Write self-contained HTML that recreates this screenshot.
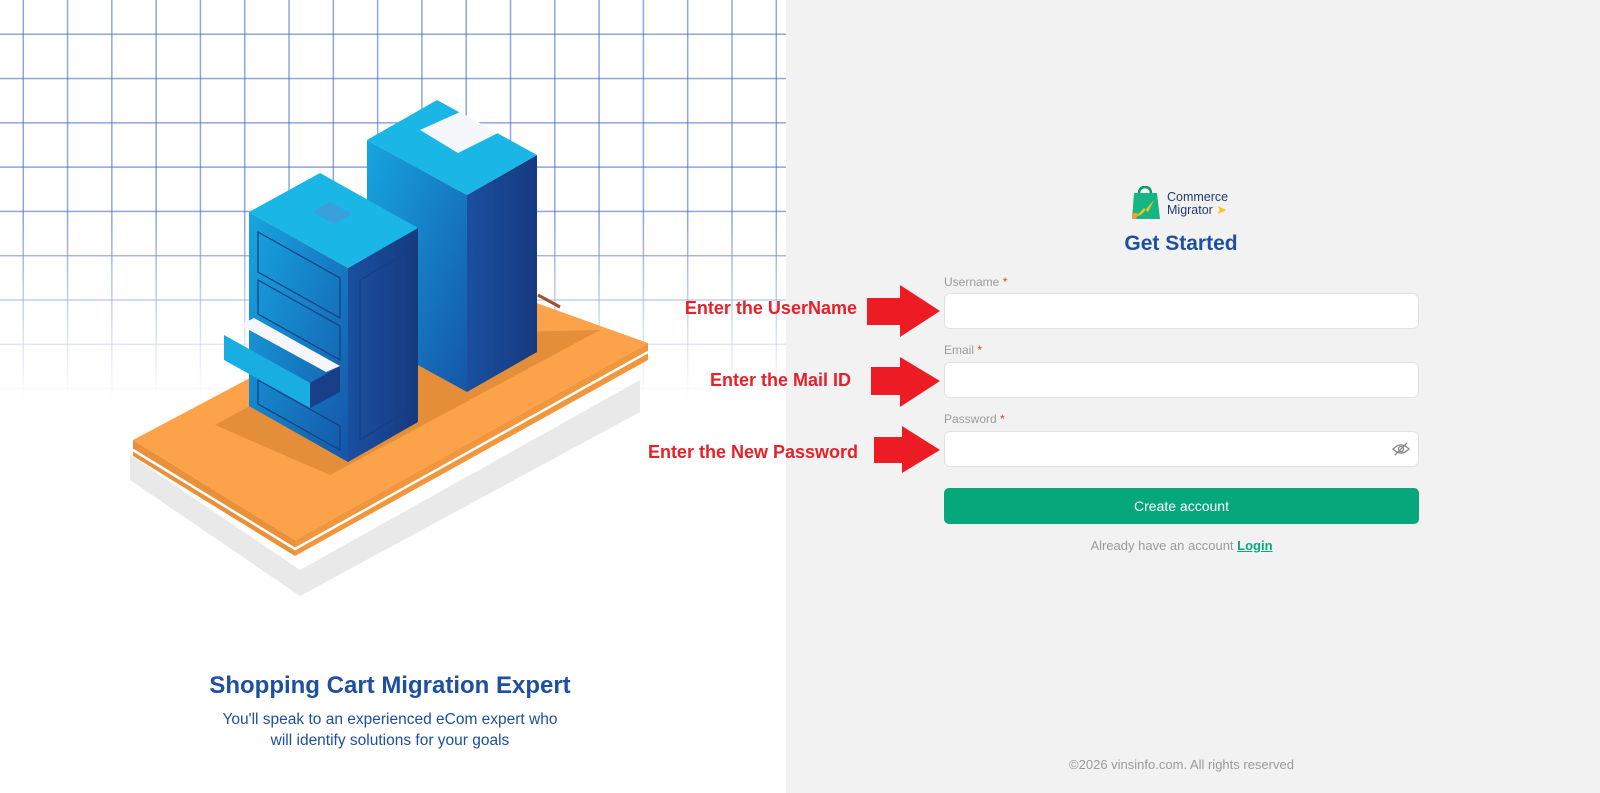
<!DOCTYPE html>
<html><head><meta charset="utf-8"><style>
*{margin:0;padding:0;box-sizing:border-box}
body{width:1600px;height:793px;overflow:hidden;background:#fff;font-family:"Liberation Sans",sans-serif;position:relative}
.right{position:absolute;left:786px;top:0;width:814px;height:793px;background:#f2f2f2}
.grid{position:absolute;left:0;top:0;width:786px;height:420px;
background-image:linear-gradient(to right,rgba(70,105,190,.6) 1.3px,transparent 1.3px),linear-gradient(to bottom,rgba(70,105,190,.6) 1.3px,transparent 1.3px);
background-size:44.3px 44.3px;background-position:22.5px 33.5px;
-webkit-mask-image:linear-gradient(to bottom,#000 0,#000 220px,rgba(0,0,0,.3) 340px,transparent 400px);mask-image:linear-gradient(to bottom,#000 0,#000 220px,rgba(0,0,0,.3) 340px,transparent 400px)}
.abs{position:absolute}
.lbl{position:absolute;left:944px;font-size:12px;color:#9a9a9a}
.lbl span{color:#e53935}
.inp{position:absolute;left:944px;width:475px;height:36px;background:#fff;border:1px solid #e2e2e2;border-radius:6px}
.ann{position:absolute;font-weight:bold;font-size:18px;color:#e8202a;text-align:right;width:300px}
</style></head><body>
<div class="grid"></div>
<div class="right"></div>
<svg class="abs" style="left:0;top:0" width="786" height="793">
<defs>
<linearGradient id="lf" x1="0" y1="0" x2="1" y2="1"><stop offset="0" stop-color="#16a6e0"/><stop offset="1" stop-color="#1556a8"/></linearGradient>
<linearGradient id="rf" x1="0" y1="0" x2="1" y2="0"><stop offset="0" stop-color="#1b4fa0"/><stop offset="1" stop-color="#163a80"/></linearGradient>
</defs>
<polygon points="130,480 300,596 640,412 640,380 300,570 130,455" fill="#e9e9e9"/>
<polygon points="133,440 295,540 295,556 133,456" fill="#e8913a"/>
<polygon points="295,540 648,343 648,360 295,556" fill="#f0963d"/>
<polyline points="133,450 295,549 648,352" fill="none" stroke="#fff" stroke-width="2.5"/>
<polygon points="133,440 450,272 648,343 295,540" fill="#fba24a"/>
<polygon points="215,425 380,335 600,330 330,475" fill="#e08a35" opacity=".8"/>
<polygon points="367,140 467,195 467,392 367,337" fill="url(#lf)"/>
<polygon points="467,195 537,155 537,352 467,392" fill="url(#rf)"/>
<polygon points="367,140 437,100 537,155 467,195" fill="#19b6e6"/>
<polygon points="420,130 460,112 498,133 458,153" fill="#f4f6fa"/>
<line x1="538" y1="295" x2="560" y2="307" stroke="#a0522d" stroke-width="3"/>
<polygon points="249,212 348,268 348,462 249,406" fill="url(#lf)"/>
<polygon points="348,268 418,228 418,422 348,462" fill="url(#rf)"/>
<polygon points="249,212 320,173 418,228 348,268" fill="#19b6e6"/>
<polygon points="312,212 330,202 352,214 334,224" fill="#3aa0dc"/>
<g fill="none" stroke="#153e86" stroke-width="1.2">
<path d="M258,232 L340,278 L340,318 L258,272Z"/><path d="M258,280 L340,326 L340,360 L258,314Z"/>
<path d="M258,380 L340,426 L340,450 L258,404Z"/>
<path d="M360,280 L408,252 L408,410 L360,440Z"/>
</g>
<polygon points="224,335 310,383 310,408 224,360" fill="#18aee2"/>
<polygon points="310,383 340,366 340,392 310,408" fill="#1a3f8a"/>
<polygon points="240,325 326,372 340,366 254,318" fill="#f4f6fa"/>
<text x="390" y="693" text-anchor="middle" font-family="Liberation Sans,sans-serif" font-weight="bold" font-size="24" fill="#1e4fa0">Shopping Cart Migration Expert</text>
<text x="390" y="724" text-anchor="middle" font-family="Liberation Sans,sans-serif" font-size="15.5" fill="#1e4fa0">You'll speak to an experienced eCom expert who</text>
<text x="390" y="745" text-anchor="middle" font-family="Liberation Sans,sans-serif" font-size="15.5" fill="#1e4fa0">will identify solutions for your goals</text>
</svg>
<svg class="abs" style="left:1130px;top:186px" width="32" height="34"><path d="M9,8 Q9,1 15,1 Q21,1 21,8" fill="none" stroke="#0a9b6c" stroke-width="2.5"/><polygon points="4,7 27,7 30,33 2,33" fill="#18b584"/><polygon points="4,33 14,22 18,26 24,14 12,28 2,33" fill="#f5c518"/><polygon points="2,27 8,27 6,33 2,33" fill="#f39c3a"/></svg>
<div class="abs" style="left:1167px;top:191px;font-size:12.5px;line-height:13px;color:#233a6a">Commerce<br>Migrator <span style="color:#f5c518">➤</span></div>
<div class="abs" style="left:1000px;width:362px;top:232px;text-align:center;font-size:21px;font-weight:bold;color:#1e4fa0">Get Started</div>
<div class="lbl" style="top:275px">Username <span>*</span></div>
<div class="inp" style="top:293px"></div>
<div class="lbl" style="top:343px">Email <span>*</span></div>
<div class="inp" style="top:362px"></div>
<div class="lbl" style="top:412px">Password <span>*</span></div>
<div class="inp" style="top:431px"></div>
<svg class="abs" style="left:1392px;top:441px" width="18" height="16"><path d="M1,8 Q9,0 17,8 Q9,16 1,8Z" fill="none" stroke="#888" stroke-width="1.3"/><circle cx="9" cy="8" r="2.5" fill="none" stroke="#888" stroke-width="1.3"/><line x1="3" y1="14" x2="15" y2="2" stroke="#888" stroke-width="1.3"/></svg>
<div class="abs" style="left:944px;top:488px;width:475px;height:36px;background:#06a87b;border-radius:5px;color:#fff;font-size:14px;text-align:center;line-height:36px">Create account</div>
<div class="abs" style="left:944px;width:475px;top:538px;text-align:center;font-size:13px;color:#9a9a9a">Already have an account <span style="color:#06a87b;font-weight:bold;text-decoration:underline">Login</span></div>
<div class="abs" style="left:944px;width:475px;top:757px;text-align:center;font-size:13px;color:#9a9a9a">©2026 vinsinfo.com. All rights reserved</div>
<div class="ann" style="left:557px;top:298px">Enter the UserName</div>
<div class="ann" style="left:551px;top:370px">Enter the Mail ID</div>
<div class="ann" style="left:558px;top:442px">Enter the New Password</div>
<svg class="abs" style="left:860px;top:280px" width="90" height="200">
<polygon points="7,18 40,18 40,5 80,31 40,57 40,45 7,45" fill="#ed1c24"/>
<polygon points="11,87 40,87 40,77 80,101 40,127 40,115 11,115" fill="#ed1c24"/>
<polygon points="14,157 42,157 42,146 80,170 42,193 42,183 14,183" fill="#ed1c24"/>
</svg>
</body></html>
